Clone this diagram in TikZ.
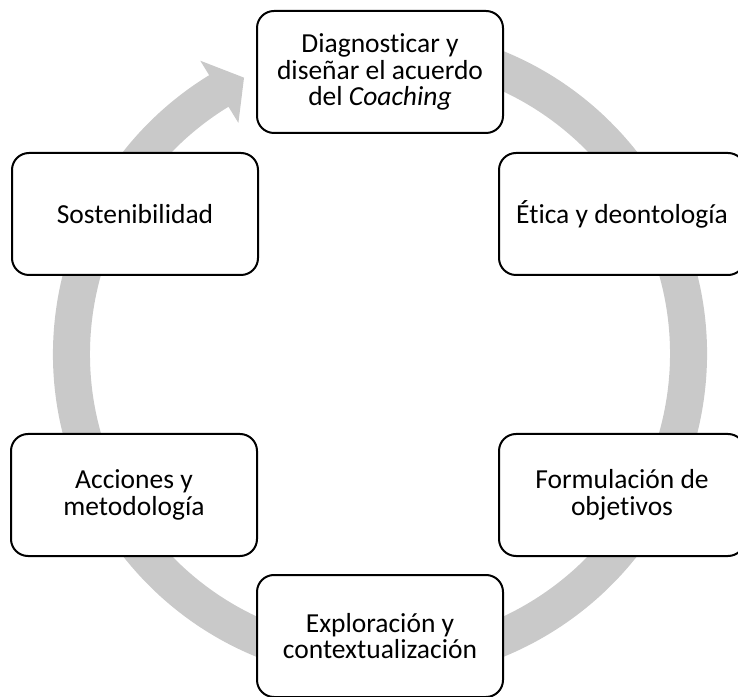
\documentclass[tikz,border=0pt]{standalone}
\usepackage{fontspec}
\setmainfont[Ligatures=NoCommon]{Carlito}
\usetikzlibrary{calc}
\definecolor{ringgray}{RGB}{201,201,201}
\tikzset{
  stagebox/.style={draw=black, line width=2pt, fill=white, rounded corners=17pt,
    minimum width=246pt, minimum height=122pt, align=center, inner sep=2pt,
    font=\fontsize{27.5pt}{26.7pt}\selectfont}
}
\begin{document}
\begin{tikzpicture}[x=1pt,y=1pt]
\useasboundingbox (0,0) rectangle (738,696);
\coordinate (C) at (380,342);
% circular arrow
\fill[ringgray] ($(C)+(80:327)$) arc[start angle=80,end angle=-238.5,radius=327]
  -- ($(C)+(121.5:344)$) -- ($(C)+(116.2:308)$) -- ($(C)+(121.5:271)$)
  -- ($(C)+(121.5:290)$) arc[start angle=-238.5,end angle=80,radius=290] -- cycle;
% boxes
\node[stagebox] (diag) at (380,624) {Diagnosticar y\\diseñar el acuerdo\\del \textit{Coaching}};
\node[stagebox] (etica) at (622,482) {Ética y deontología};
\node[stagebox] (form) at (622,201) {Formulación de\\objetivos};
\node[stagebox] (expl) at (380,60) {Exploración y\\contextualización};
\node[stagebox] (acc) at (134,201) {Acciones y\\metodología};
\node[stagebox] (sost) at (135,482) {Sostenibilidad};
\end{tikzpicture}
\end{document}
